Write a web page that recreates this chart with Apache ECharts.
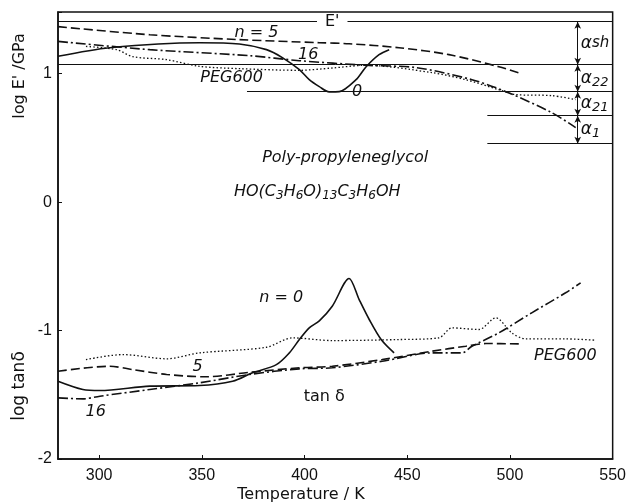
<!DOCTYPE html>
<html>
<head>
<meta charset="utf-8">
<script src="https://cdn.jsdelivr.net/npm/echarts@6/dist/echarts.min.js"></script>
<style>html,body{margin:0;padding:0;background:#fff}#chart{width:629px;height:504px}</style>
</head>
<body>
<div id="chart"></div>
<script>
// log E' / GPa  (upper group)
var eN0 = [[280,1.135],[305.2,1.202],[348.9,1.241],[368.3,1.231],[381.5,1.187],[389.2,1.125],[397.5,1.031],[402.3,0.953],[407.2,0.899],[412,0.858],[416.9,0.86],[425.1,0.953],[430,1.054],[436.3,1.148],[441.2,1.187]];
var eN5 = [[280,1.366],[324.7,1.303],[368.3,1.265],[407.2,1.241],[421.7,1.233],[446,1.202],[470.3,1.148],[494.6,1.054],[505.3,1.0]];
var eN16 = [[280,1.251],[324.7,1.187],[373.2,1.14],[397.5,1.101],[430,1.065],[454.3,1.047],[481.5,0.953],[498,0.86],[520.3,0.697],[532,0.58]];
var ePeg = [[293.6,1.212],[308.6,1.187],[316.4,1.132],[332.9,1.109],[348.9,1.057],[368.3,1.039],[397.5,1.026],[413.5,1.044],[430,1.065],[462,1.008],[478.5,0.953],[494.6,0.875],[502.8,0.837],[520.3,0.829],[532,0.798]];

// log tan delta  (lower group)
var tN0 = [[280,-1.395],[292.1,-1.459],[300.4,-1.467],[324.7,-1.433],[348.9,-1.428],[365,-1.395],[374.7,-1.329],[386.3,-1.265],[392.6,-1.174],[397.5,-1.07],[402.3,-0.979],[407.2,-0.925],[413.5,-0.811],[421.7,-0.595],[426.6,-0.759],[431.5,-0.914],[437.3,-1.07],[443.6,-1.174]];
var tN5 = [[280,-1.317],[305.2,-1.278],[316.4,-1.304],[332.9,-1.342],[352.3,-1.36],[373.2,-1.325],[397.5,-1.29],[413.5,-1.278],[437.8,-1.226],[462,-1.161],[478.5,-1.122],[488.3,-1.101],[504.3,-1.104]];
var tN16 = [[280,-1.524],[292.1,-1.532],[300.4,-1.511],[324.7,-1.459],[348.9,-1.407],[373.2,-1.342],[397.5,-1.298],[413.5,-1.29],[437.8,-1.239],[462,-1.174],[476.6,-1.174],[481.5,-1.122],[494.6,-1.018],[510.6,-0.862],[527.1,-0.706],[534.4,-0.629]];
var tPeg = [[293.6,-1.226],[311.6,-1.187],[332.9,-1.22],[348.9,-1.174],[381.5,-1.13],[394.1,-1.057],[413.5,-1.078],[446,-1.07],[465.4,-1.057],[471.8,-0.979],[484.9,-0.992],[493.1,-0.901],[500.9,-1.018],[507.7,-1.065],[527.1,-1.065],[541.7,-1.075]];

// reference levels on the E' side and where each one starts
var refLevels = [1.405, 1.07, 0.86, 0.673, 0.455];
var refStart = [280, 280, 372, 489, 489];
var arrowT = 533;
var alphaNames = ['α{n|sh}', 'α{s|22}', 'α{s|21}', 'α{s|1}'];

var xTicks = [300, 350, 400, 450, 500, 550];

// annotations [T, value, text]
var notes = [
  [413.5, 1.405, "E'"],
  [376.6, 1.319, 'n = 5'],
  [401.8, 1.148, '16'],
  [364.5, 0.969, 'PEG600'],
  [425.6, 0.86, '0'],
  [419.8, 0.346, 'Poly-propyleneglycol'],
  [406.2, 0.082, 'HO(C{s|3}H{s|6}O){s|13}C{s|3}H{s|6}OH'],
  [388.7, -0.743, 'n = 0'],
  [348, -1.28, '5'],
  [298.4, -1.63, '16'],
  [409.6, -1.514, 'tan δ'],
  [527, -1.2, 'PEG600']
];

var ink = '#111';
var chart = echarts.init(document.getElementById('chart'));

function curve(data, type, w) {
  return {
    type: 'line', data: data, smooth: 0.3, symbol: 'none', silent: true,
    lineStyle: { color: ink, width: w, type: type }
  };
}

var refLines = refLevels.map(function (v, i) {
  return [{ coord: [refStart[i], v] }, { coord: [550, v] }];
});
var arrows = [];
for (var i = 0; i < refLevels.length - 1; i++) {
  arrows.push([{ coord: [arrowT, refLevels[i]] }, { coord: [arrowT, refLevels[i + 1]] }]);
}
var alphaData = alphaNames.map(function (t, i) {
  return { value: [arrowT + 1.5, (refLevels[i] + refLevels[i + 1]) / 2], name: t };
});

var uprightNotes = { "E'": true, 'tan δ': true };
var noteFont = 'DejaVu Sans';

var option = {
  animation: false,
  backgroundColor: '#fff',
  grid: { left: 58, right: 15, top: 12, bottom: 45, show: true, borderColor: ink, borderWidth: 1.5, backgroundColor: 'transparent' },
  xAxis: {
    type: 'value', min: 280, max: 550,
    axisLine: { onZero: false, lineStyle: { color: ink, width: 1.5 } },
    axisTick: { inside: true, length: 4, customValues: xTicks, lineStyle: { color: ink } },
    axisLabel: { customValues: xTicks, fontFamily: 'Liberation Sans', fontSize: 16, color: ink, margin: 9 },
    splitLine: { show: false }
  },
  yAxis: {
    type: 'value', min: -2, max: 1.48, interval: 1,
    axisLine: { show: true, onZero: false, lineStyle: { color: ink, width: 1.5 } },
    axisTick: { show: true, inside: true, length: 4, lineStyle: { color: ink } },
    axisLabel: {
      fontFamily: 'Liberation Sans', fontSize: 16, color: ink, margin: 6,
      formatter: function (v) { return Number.isInteger(v) ? String(v) : ''; }
    },
    splitLine: { show: false }
  },
  graphic: [
    { type: 'text', x: 20, y: 76, rotation: Math.PI / 2, style: { text: "log E' /GPa", font: '16px "DejaVu Sans"', fill: ink, align: 'center', verticalAlign: 'middle' } },
    { type: 'text', x: 20, y: 386, rotation: Math.PI / 2, style: { text: 'log tanδ', font: '17px "DejaVu Sans"', fill: ink, align: 'center', verticalAlign: 'middle' } },
    { type: 'text', x: 301, y: 495, style: { text: 'Temperature / K', font: '16px "DejaVu Sans"', fill: ink, align: 'center', verticalAlign: 'middle' } }
  ],
  series: [
    {
      type: 'line', data: [], silent: true,
      markLine: {
        silent: true, symbol: 'none', label: { show: false },
        lineStyle: { color: ink, width: 1, type: 'solid' },
        data: refLines
      }
    },
    {
      type: 'line', data: [], silent: true,
      markLine: {
        silent: true, symbol: ['arrow', 'arrow'], symbolSize: [5, 7], label: { show: false },
        lineStyle: { color: ink, width: 1, type: 'solid' },
        data: arrows
      }
    },
    curve(eN0, 'solid', 1.6),
    curve(eN5, [9, 4], 1.6),
    curve(eN16, [10, 3, 2, 3], 1.6),
    curve(ePeg, [1.5, 2.2], 1.3),
    curve(tN0, 'solid', 1.6),
    curve(tN5, [9, 4], 1.6),
    curve(tN16, [10, 3, 2, 3], 1.6),
    curve(tPeg, [1.5, 2.2], 1.3),
    {
      type: 'scatter', symbolSize: 0, silent: true, z: 10,
      itemStyle: { opacity: 1 },
      data: notes.map(function (n) { return { value: [n[0], n[1]], name: n[2] }; }),
      label: {
        show: true, position: 'inside', color: ink,
        formatter: function (p) { return p.name; },
        fontFamily: noteFont, fontSize: 16,
        rich: {
          s: { fontFamily: noteFont, fontSize: 12, fontStyle: 'italic', color: ink, padding: [9, 0, 0, 0] }
        }
      }
    },
    {
      type: 'scatter', symbolSize: 0, silent: true, z: 10,
      itemStyle: { opacity: 1 },
      data: alphaData,
      label: {
        show: true, position: 'right', distance: 0, color: ink,
        formatter: function (p) { return p.name; },
        fontFamily: noteFont, fontSize: 17, fontStyle: 'italic',
        rich: {
          n: { fontFamily: noteFont, fontSize: 15, fontStyle: 'italic', color: ink },
          s: { fontFamily: noteFont, fontSize: 13, fontStyle: 'italic', color: ink, padding: [8, 0, 0, 0] }
        }
      }
    }
  ]
};

// italic for most of the notes, white box behind E'
option.series[10].data.forEach(function (d) {
  var lab = { fontStyle: uprightNotes[d.name] ? 'normal' : 'italic' };
  if (d.name === "E'") { lab.backgroundColor = '#fff'; lab.padding = [0, 8]; }
  d.label = lab;
});

chart.setOption(option);
</script>
</body>
</html>
